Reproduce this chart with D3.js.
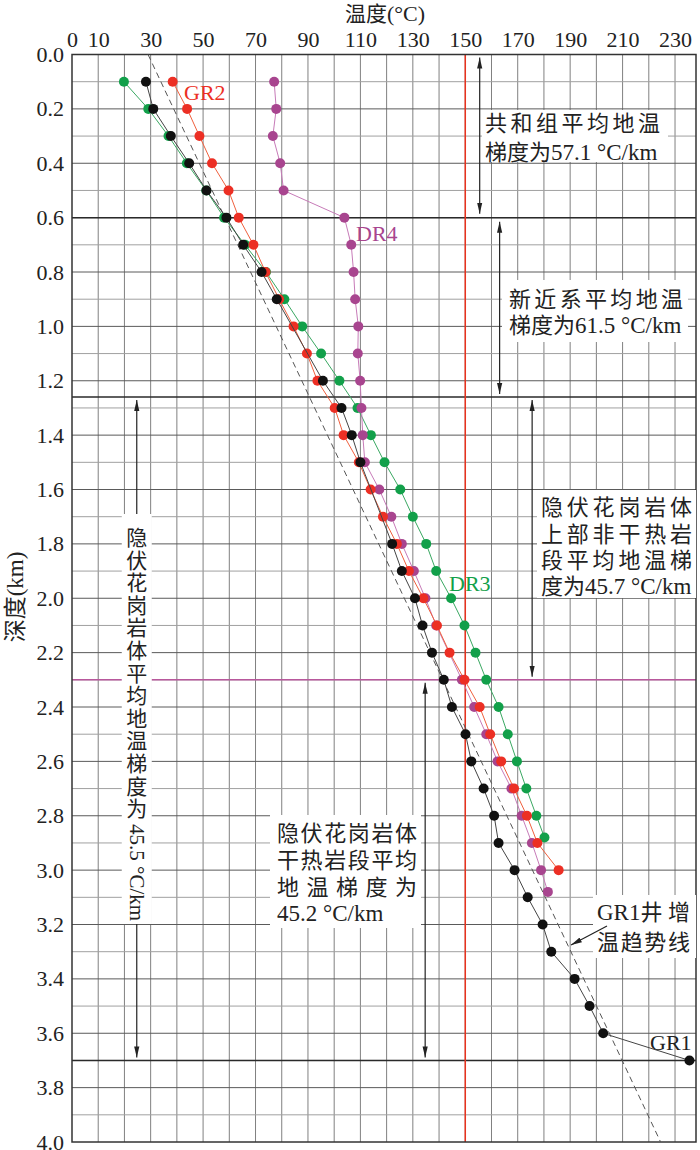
<!DOCTYPE html>
<html>
<head>
<meta charset="utf-8">
<script src="https://cdn.jsdelivr.net/npm/d3@7"></script>
<style>
  body { margin: 0; background: #fff; }
  svg { display: block; }
  .num { font-family: "Liberation Serif", "Times New Roman", serif; }
  .cjk { font-family: "Liberation Serif", "Noto Sans CJK SC", serif; }
</style>
</head>
<body>
<svg id="chart" width="700" height="1150"></svg>
<script>
// tick labels
var xTicks = [0, 10, 30, 50, 70, 90, 110, 130, 150, 170, 190, 210, 230];
var yTicks = [0, 0.2, 0.4, 0.6, 0.8, 1.0, 1.2, 1.4, 1.6, 1.8, 2.0, 2.2, 2.4, 2.6, 2.8, 3.0, 3.2, 3.4, 3.6, 3.8, 4.0];

// GR2 well (red)
var gr2Depth = [0.1, 0.2, 0.3, 0.4, 0.5, 0.6, 0.7, 0.8, 0.9, 1.0, 1.1, 1.2, 1.3, 1.4, 1.5, 1.6, 1.7, 1.8, 1.9, 2.0, 2.1, 2.2, 2.3, 2.4, 2.5, 2.6, 2.7, 2.8, 2.9, 3.0];
var gr2Temp = [38.4, 43.9, 48.6, 53.4, 59.7, 63.6, 69.2, 73.8, 79.0, 84.5, 89.6, 93.6, 100.2, 103.6, 109.4, 113.9, 118.6, 123.9, 128.5, 134.0, 139.2, 144.0, 149.7, 155.5, 159.5, 163.7, 168.6, 173.5, 177.5, 185.6];

// GR1 well (black)
var gr1Depth = [0.1, 0.2, 0.3, 0.4, 0.5, 0.6, 0.7, 0.8, 0.9, 1.2, 1.3, 1.4, 1.5, 1.8, 1.9, 2.0, 2.1, 2.2, 2.3, 2.4, 2.5, 2.6, 2.7, 2.8, 2.9, 3.0, 3.1, 3.2, 3.3, 3.4, 3.5, 3.6, 3.7];
var gr1Temp = [28.2, 31.0, 37.7, 44.7, 51.3, 58.9, 65.3, 72.3, 78.1, 95.7, 102.8, 106.7, 110.0, 122.1, 125.8, 130.8, 133.7, 137.3, 141.8, 144.9, 150.1, 152.3, 157.0, 161.0, 162.7, 168.8, 173.8, 179.5, 182.8, 191.7, 197.4, 202.6, 235.5];

// DR3 well (green)
var dr3Depth = [0.1, 0.2, 0.3, 0.4, 0.5, 0.6, 0.7, 0.8, 0.9, 1.0, 1.1, 1.2, 1.3, 1.4, 1.5, 1.6, 1.7, 1.8, 1.9, 2.0, 2.1, 2.2, 2.3, 2.4, 2.5, 2.6, 2.7, 2.8, 2.88];
var dr3Temp = [19.8, 29.1, 36.8, 43.8, 51.2, 58.0, 66.0, 74.0, 81.0, 87.8, 95.0, 102.0, 108.9, 114.0, 119.2, 125.2, 130.0, 135.1, 138.9, 144.6, 149.7, 153.9, 158.0, 162.7, 166.2, 169.7, 173.3, 177.1, 180.2];

// DR4 well (purple)
var dr4Depth = [0.1, 0.2, 0.3, 0.4, 0.5, 0.6, 0.7, 0.8, 0.9, 1.0, 1.1, 1.2, 1.3, 1.4, 1.5, 1.6, 1.7, 1.8, 1.9, 2.0, 2.1, 2.3, 2.4, 2.5, 2.6, 2.7, 2.8, 2.9, 3.0, 3.08];
var dr4Temp = [77.1, 77.9, 76.6, 79.4, 80.7, 103.9, 106.5, 107.4, 108.0, 109.2, 109.0, 109.9, 110.4, 110.9, 111.7, 117.2, 121.8, 125.8, 130.4, 134.8, 138.9, 148.7, 153.4, 158.0, 162.3, 167.6, 171.5, 175.4, 178.9, 181.5];

// GR1 warming trend line (dashed)
var trendDepth = [0, 4.0];
var trendTemp = [29, 224.5];

// layer boundaries
var boundaryDepth = [0.6, 1.26, 3.7];
var graniteTopDepth = 2.3;
var refTemp = 150;

var svg = d3.select('#chart');
var pl = 72, pt = 54.5, pr = 696, pb = 1142;

var x = d3.scaleLinear().domain([0, 238]).range([pl, pr]);
var y = d3.scaleLinear().domain([0, 4]).range([pt, pb]);

// arrow marker
svg.append('defs').append('marker')
    .attr('id', 'arr')
    .attr('viewBox', '0 -3 11 6')
    .attr('refX', 11).attr('refY', 0)
    .attr('markerUnits', 'userSpaceOnUse')
    .attr('markerWidth', 11).attr('markerHeight', 6)
    .attr('orient', 'auto-start-reverse')
    .append('path').attr('d', 'M0,-2.6L11,0L0,2.6Z').attr('fill', '#222');

// grid
var g = svg.append('g');
g.selectAll('line.vg').data(d3.range(10, 231, 10)).enter().append('line')
    .attr('x1', d => x(d)).attr('x2', d => x(d))
    .attr('y1', pt).attr('y2', pb)
    .attr('stroke', '#808080').attr('stroke-width', 1);
g.selectAll('line.hg').data(d3.range(1, 40)).enter().append('line')
    .attr('x1', pl).attr('x2', pr)
    .attr('y1', d => y(d / 10)).attr('y2', d => y(d / 10))
    .attr('stroke', d => d % 2 === 0 ? '#5a5a5a' : '#a0a0a0')
    .attr('stroke-width', 1);

// boundaries
g.selectAll('line.bd').data(boundaryDepth).enter().append('line')
    .attr('x1', pl).attr('x2', pr)
    .attr('y1', d => y(d)).attr('y2', d => y(d))
    .attr('stroke', '#2a2a2a').attr('stroke-width', 1.5);
g.append('line')
    .attr('x1', pl).attr('x2', pr)
    .attr('y1', y(graniteTopDepth)).attr('y2', y(graniteTopDepth))
    .attr('stroke', '#b8589c').attr('stroke-width', 1.5);
g.append('line')
    .attr('x1', x(refTemp)).attr('x2', x(refTemp))
    .attr('y1', pt).attr('y2', pb)
    .attr('stroke', '#e8321e').attr('stroke-width', 1.5);

// frame
g.append('rect')
    .attr('x', pl).attr('y', pt)
    .attr('width', pr - pl).attr('height', pb - pt)
    .attr('fill', 'none').attr('stroke', '#333').attr('stroke-width', 1.5);

// axes
var xAxis = svg.append('g')
    .attr('transform', 'translate(0,' + pt + ')')
    .call(d3.axisTop(x).tickValues(xTicks).tickSize(0).tickPadding(8).tickFormat(d3.format('d')));
var yAxis = svg.append('g')
    .attr('transform', 'translate(' + pl + ',0)')
    .call(d3.axisLeft(y).tickValues(yTicks).tickSize(0).tickPadding(8).tickFormat(d3.format('.1f')));
[xAxis, yAxis].forEach(function(a){
    a.select('.domain').remove();
    a.selectAll('text').attr('font-size', 22).attr('fill', '#222')
        .attr('font-family', '"Liberation Serif", serif');
});

// mixed text: CJK runs a bit smaller than latin runs, like the original figure
function runs(t, s, latin, cjk){
    s.split(/([\u4e00-\u9fff]+)/).filter(p => p.length).forEach(function(p){
        t.append('tspan')
            .attr('font-size', /[\u4e00-\u9fff]/.test(p) ? cjk : latin)
            .text(p);
    });
    return t;
}

runs(svg.append('text').attr('class', 'cjk').attr('x', 385).attr('y', 21)
    .attr('text-anchor', 'middle').attr('fill', '#222'), '温度(°C)', 22, 21);
runs(svg.append('text').attr('class', 'cjk')
    .attr('transform', 'translate(23,597) rotate(-90)').attr('text-anchor', 'middle')
    .attr('fill', '#222'), '深度(km)', 23, 23);

// text box; lines with j=true are spread to width w
function textBox(bx, by, bw, bh, lines, tx, lineY, w){
    svg.append('rect').attr('x', bx).attr('y', by).attr('width', bw).attr('height', bh).attr('fill', '#fff');
    lines.forEach(function(s, i){
        var t = svg.append('text').attr('class', 'cjk')
            .attr('x', tx).attr('y', lineY[i] + 8)
            .attr('fill', '#222');
        runs(t, s.t, 23, 22);
        if (s.j) t.attr('textLength', w).attr('lengthAdjust', 'spacing');
    });
}

// arrows
function arrow(t, d0, d1, both){
    var l = svg.append('line')
        .attr('x1', x(t)).attr('x2', x(t))
        .attr('y1', d0).attr('y2', d1)
        .attr('stroke', '#222').attr('stroke-width', 1.2)
        .attr('marker-end', 'url(#arr)');
    if (both) l.attr('marker-start', 'url(#arr)');
}

textBox(482, 110, 186, 52, [{t: '共和组平均地温', j: true}, {t: '梯度为57.1 °C/km'}], 485, [123, 152], 175);
arrow(155.5, y(0) + 3, y(0.6) - 4, true);

textBox(502, 280, 186, 62, [{t: '新近系平均地温', j: true}, {t: '梯度为61.5 °C/km'}], 509, [299, 325], 174);
arrow(163.1, y(0.6) + 4, y(1.26) - 3, true);

textBox(537, 490, 159, 108, [{t: '隐伏花岗岩体', j: true}, {t: '上部非干热岩', j: true}, {t: '段平均地温梯', j: true}, {t: '度为45.7 °C/km'}], 541, [507, 533.5, 560, 586], 151);
arrow(175.5, y(1.26) + 3, y(2.3) - 3, true);

textBox(270, 815, 151, 113, [{t: '隐伏花岗岩体', j: true}, {t: '干热岩段平均', j: true}, {t: '地温梯度为', j: true}, {t: '45.2 °C/km'}], 277, [833, 860, 887, 913], 140);
arrow(134.7, y(2.3) + 3, y(3.7) - 3, true);

// left vertical text with split arrow
var vx = x(24.7);
svg.append('rect').attr('x', vx - 15).attr('y', 514).attr('width', 30).attr('height', 410).attr('fill', '#fff');
var vChars = '隐伏花岗岩体平均地温梯度为'.split('');
svg.selectAll('text.vc').data(vChars).enter().append('text').attr('class', 'cjk')
    .attr('x', vx).attr('y', (d, i) => 538 + i * 22.6 + 7)
    .attr('text-anchor', 'middle').attr('font-size', 21).attr('fill', '#222')
    .text(d => d);
svg.append('text').attr('class', 'num')
    .attr('transform', 'translate(' + vx + ',824) rotate(90)')
    .attr('dy', '0.34em').attr('font-size', 21).attr('fill', '#222')
    .text('45.5 °C/km');
arrow(24.7, 514, y(1.26) + 3, false);
arrow(24.7, 924, y(3.7) - 3, false);

// series
var series = [
    {name: 'DR3', depth: dr3Depth, temp: dr3Temp, line: '#3aa862', dot: '#12a04a'},
    {name: 'DR4', depth: dr4Depth, temp: dr4Temp, line: '#c77bb8', dot: '#a8458f'},
    {name: 'GR2', depth: gr2Depth, temp: gr2Temp, line: '#f0603e', dot: '#ec2f24'},
    {name: 'GR1', depth: gr1Depth, temp: gr1Temp, line: '#444', dot: '#111'}
];
var line = d3.line().x(d => x(d[1])).y(d => y(d[0]));

svg.append('path')
    .datum(d3.zip(trendDepth, trendTemp))
    .attr('d', line).attr('fill', 'none')
    .attr('stroke', '#555').attr('stroke-width', 1).attr('stroke-dasharray', '6,4');

series.forEach(function(s){
    var pts = d3.zip(s.depth, s.temp);
    svg.append('path').datum(pts).attr('d', line)
        .attr('fill', 'none').attr('stroke', s.line).attr('stroke-width', 1);
    svg.selectAll(null).data(pts).enter().append('circle')
        .attr('cx', d => x(d[1])).attr('cy', d => y(d[0])).attr('r', 5)
        .attr('fill', s.dot);
});

// well labels
var labels = [
    {t: 'GR2', x: 184, y: 92, c: '#ec2f24'},
    {t: 'DR4', x: 356, y: 233, c: '#a8458f'},
    {t: 'DR3', x: 449, y: 583, c: '#12a04a'},
    {t: 'GR1', x: 650, y: 1042, c: '#222'}
];
svg.selectAll('text.lab').data(labels).enter().append('text').attr('class', 'num')
    .attr('x', d => d.x).attr('y', d => d.y + 8)
    .attr('font-size', 22).attr('fill', d => d.c).text(d => d.t);

// trend line note
svg.append('rect').attr('x', 593).attr('y', 895).attr('width', 103).attr('height', 63).attr('fill', '#fff');
runs(svg.append('text').attr('class', 'cjk').attr('x', 597).attr('y', 920).attr('fill', '#222'), 'GR1井', 23, 22);
runs(svg.append('text').attr('class', 'cjk').attr('x', 690).attr('y', 920)
    .attr('text-anchor', 'end').attr('fill', '#222'), '增', 23, 22);
runs(svg.append('text').attr('class', 'cjk').attr('x', 597).attr('y', 950).attr('fill', '#222')
    .attr('textLength', 93).attr('lengthAdjust', 'spacing'), '温趋势线', 23, 22);
svg.append('line')
    .attr('x1', 607).attr('y1', 926).attr('x2', 571).attr('y2', 945)
    .attr('stroke', '#222').attr('stroke-width', 1.2)
    .attr('marker-end', 'url(#arr)');
</script>
</body>
</html>
